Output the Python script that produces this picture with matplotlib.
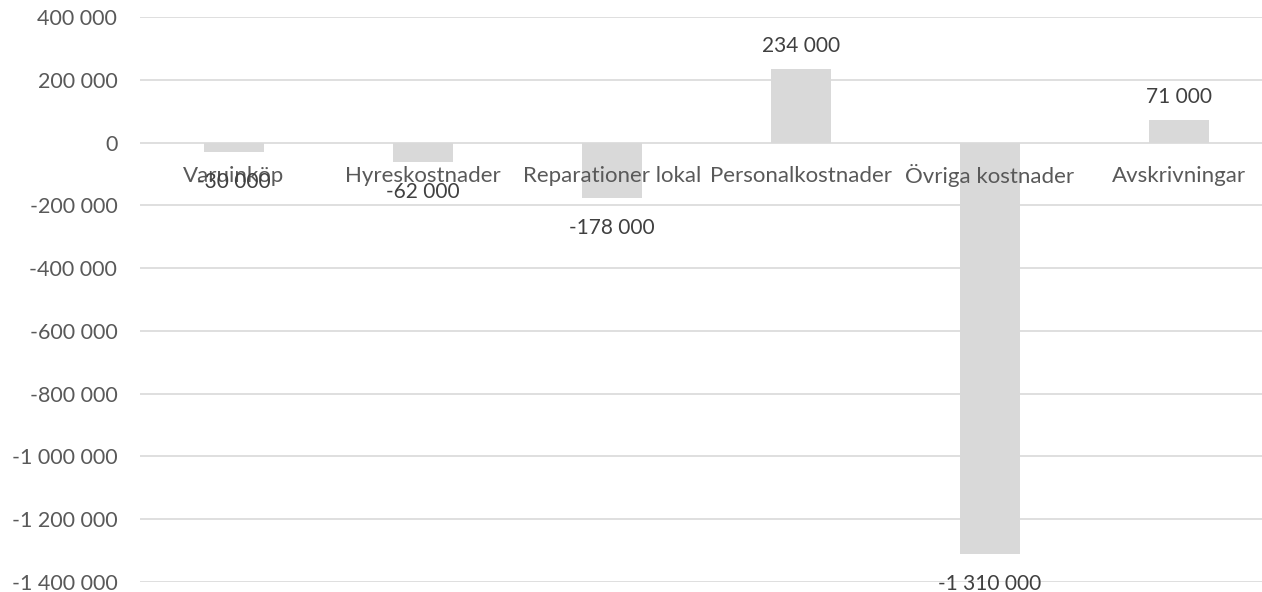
import matplotlib
matplotlib.use("Agg")
import matplotlib.pyplot as plt
from matplotlib.ticker import FixedLocator, FuncFormatter

categories = ["Varuinköp", "Hyreskostnader", "Reparationer lokal",
              "Personalkostnader", "Övriga kostnader", "Avskrivningar"]
values = [-30000, -62000, -178000, 234000, -1310000, 71000]
y_ticks = [400000, 200000, 0, -200000, -400000, -600000, -800000,
           -1000000, -1200000, -1400000]

plt.rcParams['font.family'] = ['Lato', 'DejaVu Sans']

def fmt(v):
    return f"{v:,.0f}".replace(",", " ")

fig = plt.figure(figsize=(12.62, 5.92), dpi=100)
ax = fig.add_axes([139.5/1262, 10/592, 1134/1262, 565/592])

x = list(range(len(categories)))
ax.bar(x, values, width=0.317, color="#D9D9D9", zorder=2)

ax.set_xlim(-0.5, len(categories) - 0.5)
ax.set_ylim(min(y_ticks), max(y_ticks))
ax.yaxis.set_major_locator(FixedLocator(y_ticks))
ax.yaxis.set_major_formatter(FuncFormatter(lambda v, p: fmt(v)))
ax.set_xticks([])
ax.tick_params(axis='y', length=0, pad=16, labelsize=15.5, labelcolor="#595959")
ax.grid(axis='y', color="#D9D9D9", linewidth=1.2, zorder=0)
for s in ax.spines.values():
    s.set_visible(False)

px = 72 / 100
for i, c in enumerate(categories):
    ax.annotate(c, (i, 0), xytext=(0, -33 * px), textcoords='offset points',
                ha='center', va='center', fontsize=16, color="#595959", zorder=3)

for i, v in enumerate(values):
    off = 23 if v > 0 else -30
    ax.annotate(fmt(v), (i, v), xytext=(0, off * px), textcoords='offset points',
                ha='center', va='center', fontsize=15, color="#404040", zorder=4)

fig.savefig("out.png", dpi=100)
